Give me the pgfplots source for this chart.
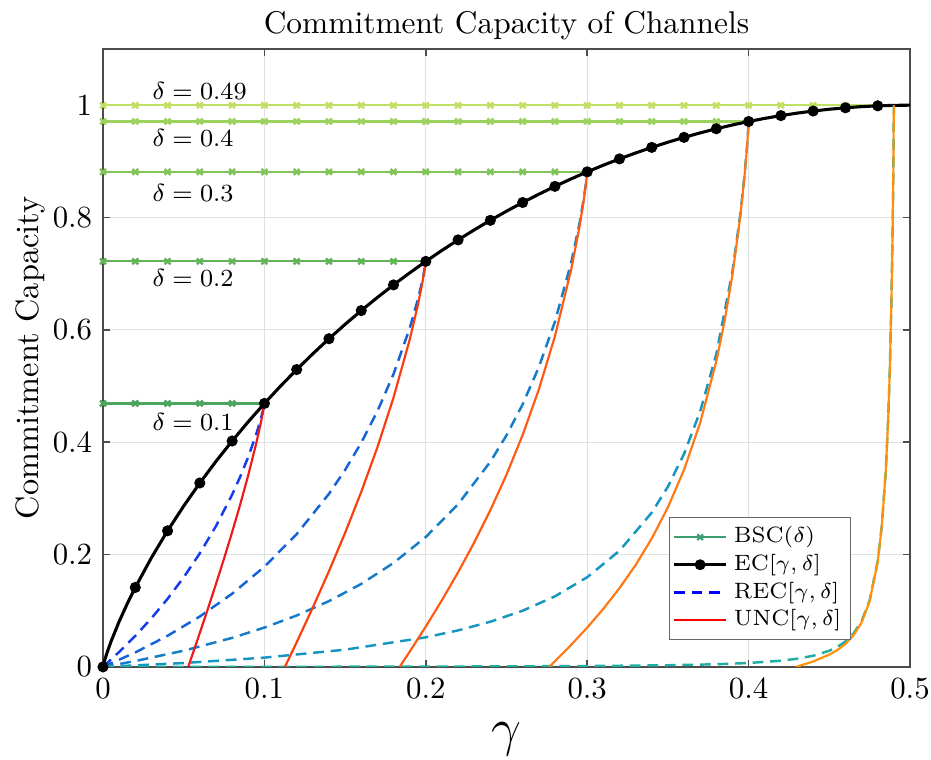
\documentclass[border=0pt]{standalone}
\usepackage{pgfplots}
\pgfplotsset{compat=1.18}

\definecolor{bsc1}{RGB}{75,165,95}
\definecolor{bsc2}{RGB}{100,178,90}
\definecolor{bsc3}{RGB}{130,195,90}
\definecolor{bsc4}{RGB}{158,210,95}
\definecolor{bsc5}{RGB}{190,225,100}
\definecolor{bscleg}{RGB}{60,160,110}
\definecolor{rec1}{RGB}{20,60,235}
\definecolor{rec2}{RGB}{20,100,215}
\definecolor{rec3}{RGB}{20,125,200}
\definecolor{rec4}{RGB}{20,150,190}
\definecolor{rec5}{RGB}{30,175,160}
\definecolor{unc1}{RGB}{240,25,25}
\definecolor{unc2}{RGB}{250,60,15}
\definecolor{unc3}{RGB}{255,90,20}
\definecolor{unc4}{RGB}{255,120,20}
\definecolor{unc5}{RGB}{255,145,10}

\pgfplotsset{
  bsc/.style={forget plot, line width=0.7pt, mark=x, mark size=1.35pt, mark options={line width=0.8pt}},
  rec/.style={forget plot, line width=0.8pt, dash pattern=on 3.5pt off 2.2pt},
  unc/.style={forget plot, line width=0.7pt},
}
\tikzset{dlabel/.style={anchor=west, inner sep=0pt, font=\fontsize{8.5}{10}\selectfont}}

\begin{document}
\begin{tikzpicture}
\begin{axis}[
  scale only axis,
  width=262pt, height=200.6pt,
  xmin=0, xmax=0.5, ymin=0, ymax=1.1,
  xtick={0,0.1,0.2,0.3,0.4,0.5},
  xticklabels={0,0.1,0.2,0.3,0.4,0.5},
  ytick={0,0.2,0.4,0.6,0.8,1},
  yticklabels={0,0.2,0.4,0.6,0.8,1},
  grid=major, grid style={line width=0.35pt, black!12},
  axis line style={line width=0.5pt, black!70},
  major tick style={line width=0.5pt, black!70},
  major tick length=2.3pt,
  tick align=inside,
  title={Commitment Capacity of Channels},
  every axis title shift=0pt,
  title style={at={(axis description cs:0.5,1.0259)}, anchor=base, font=\fontsize{10.2}{12}\selectfont},
  xlabel={$\gamma$},
  xlabel style={at={(axis description cs:0.5,-0.1276)}, anchor=base, font=\fontsize{18}{20}\selectfont},
  ylabel={Commitment Capacity},
  ylabel style={at={(axis description cs:-0.0905,0.5)}, anchor=center, font=\fontsize{10.5}{12}\selectfont},
  legend style={at={(0.927,0.243)}, anchor=north east, font=\fontsize{7.2}{8}\selectfont,
    draw=black!60, line width=0.5pt, inner sep=1pt, row sep=-1.8pt},
  legend cell align=left,
  legend image code/.code={\draw[mark repeat=2, mark phase=2, #1]
    plot coordinates {(0pt,0pt) (8.5pt,0pt) (17pt,0pt)};},
]
\addlegendimage{bscleg, line width=0.7pt, mark=x, mark size=1.3pt}
\addlegendentry{BSC$(\delta)$}
\addlegendimage{black, line width=0.9pt, mark=*, mark size=1.3pt}
\addlegendentry{EC$[\gamma,\delta]$}
\addlegendimage{blue, line width=0.8pt, dash pattern=on 3.5pt off 2.2pt}
\addlegendentry{REC$[\gamma,\delta]$}
\addlegendimage{red, line width=0.7pt}
\addlegendentry{UNC$[\gamma,\delta]$}

% BSC(delta): flat lines
\addplot[bsc, bsc1] coordinates {(0,0.469)(0.02,0.469)(0.04,0.469)(0.06,0.469)(0.08,0.469)(0.1,0.469)};
\addplot[bsc, bsc2] coordinates {(0,0.72193)(0.02,0.72193)(0.04,0.72193)(0.06,0.72193)(0.08,0.72193)(0.1,0.72193)
  (0.12,0.72193)(0.14,0.72193)(0.16,0.72193)(0.18,0.72193)(0.2,0.72193)};
\addplot[bsc, bsc3] coordinates {(0,0.88129)(0.02,0.88129)(0.04,0.88129)(0.06,0.88129)(0.08,0.88129)(0.1,0.88129)
  (0.12,0.88129)(0.14,0.88129)(0.16,0.88129)(0.18,0.88129)(0.2,0.88129)(0.22,0.88129)(0.24,0.88129)
  (0.26,0.88129)(0.28,0.88129)(0.3,0.88129)};
\addplot[bsc, bsc4] coordinates {(0,0.97095)(0.02,0.97095)(0.04,0.97095)(0.06,0.97095)(0.08,0.97095)(0.1,0.97095)
  (0.12,0.97095)(0.14,0.97095)(0.16,0.97095)(0.18,0.97095)(0.2,0.97095)(0.22,0.97095)(0.24,0.97095)
  (0.26,0.97095)(0.28,0.97095)(0.3,0.97095)(0.32,0.97095)(0.34,0.97095)(0.36,0.97095)(0.38,0.97095)(0.4,0.97095)};
\addplot[bsc, bsc5] coordinates {(0,0.99971)(0.02,0.99971)(0.04,0.99971)(0.06,0.99971)(0.08,0.99971)(0.1,0.99971)
  (0.12,0.99971)(0.14,0.99971)(0.16,0.99971)(0.18,0.99971)(0.2,0.99971)(0.22,0.99971)(0.24,0.99971)
  (0.26,0.99971)(0.28,0.99971)(0.3,0.99971)(0.32,0.99971)(0.34,0.99971)(0.36,0.99971)(0.38,0.99971)
  (0.4,0.99971)(0.42,0.99971)(0.44,0.99971)(0.46,0.99971)(0.48,0.99971)};

% EC[gamma,delta]
\addplot[forget plot, black, line width=1pt] coordinates {
  (0,0)(0.001,0.01141)(0.0025,0.02521)(0.005,0.04541)(0.01,0.08079)(0.015,0.11236)(0.02,0.14144)
  (0.03,0.19439)(0.04,0.24229)(0.05,0.28640)(0.06,0.32744)(0.07,0.36592)(0.08,0.40218)(0.09,0.43647)
  (0.10,0.46900)(0.11,0.49992)(0.12,0.52936)(0.13,0.55744)(0.14,0.58424)(0.15,0.60984)(0.16,0.63431)
  (0.17,0.65770)(0.18,0.68008)(0.19,0.70147)(0.20,0.72193)(0.21,0.74148)(0.22,0.76015)(0.23,0.77798)
  (0.24,0.79504)(0.25,0.81128)(0.26,0.82675)(0.27,0.84146)(0.28,0.85545)(0.29,0.86872)(0.30,0.88129)
  (0.31,0.89317)(0.32,0.90438)(0.33,0.91492)(0.34,0.92482)(0.35,0.93407)(0.36,0.94268)(0.37,0.95067)
  (0.38,0.95804)(0.39,0.96480)(0.40,0.97095)(0.41,0.97650)(0.42,0.98145)(0.43,0.98582)(0.44,0.98959)
  (0.45,0.99277)(0.46,0.99538)(0.47,0.99740)(0.48,0.99885)(0.49,0.99971)(0.50,1.00000)};
\addplot[forget plot, only marks, black, mark=*, mark size=1.6pt] coordinates {
  (0,0)(0.02,0.14144)(0.04,0.24229)(0.06,0.32744)(0.08,0.40218)(0.10,0.46900)(0.12,0.52936)
  (0.14,0.58424)(0.16,0.63431)(0.18,0.68008)(0.20,0.72193)(0.22,0.76015)(0.24,0.79504)(0.26,0.82675)
  (0.28,0.85545)(0.30,0.88129)(0.32,0.90438)(0.34,0.92482)(0.36,0.94268)(0.38,0.95804)(0.40,0.97095)
  (0.42,0.98145)(0.44,0.98959)(0.46,0.99538)(0.48,0.99885)};

% REC[gamma,delta]
\addplot[rec, rec1] coordinates {(0,0)(0.01,0.02660)(0.02,0.05518)(0.03,0.08662)(0.04,0.12119)(0.05,0.15946)
  (0.06,0.20224)(0.07,0.25068)(0.08,0.30667)(0.085,0.33852)(0.09,0.37398)(0.095,0.41481)(0.0975,0.43865)
  (0.099,0.45517)(0.1,0.469)};
\addplot[rec, rec2] coordinates {(0,0)(0.02,0.02572)(0.04,0.05535)(0.06,0.08980)(0.08,0.13026)(0.10,0.17836)
  (0.12,0.23647)(0.14,0.30811)(0.15,0.35070)(0.16,0.39918)(0.17,0.45517)(0.18,0.52129)(0.19,0.60281)
  (0.195,0.65334)(0.1975,0.68326)(0.199,0.70420)(0.2,0.72193)};
\addplot[rec, rec3] coordinates {(0,0)(0.02,0.01042)(0.05,0.02889)(0.08,0.05168)(0.10,0.07001)(0.12,0.09155)
  (0.14,0.11711)(0.16,0.14775)(0.18,0.18508)(0.20,0.23127)(0.22,0.28962)(0.24,0.36534)(0.25,0.41229)
  (0.26,0.46747)(0.27,0.53348)(0.28,0.61453)(0.29,0.71896)(0.295,0.78627)(0.2975,0.82710)(0.299,0.85619)
  (0.3,0.88129)};
\addplot[rec, rec4] coordinates {(0,0)(0.05,0.00687)(0.10,0.01652)(0.15,0.03067)(0.20,0.05265)(0.22,0.06502)
  (0.24,0.08046)(0.26,0.10008)(0.28,0.12560)(0.30,0.15967)(0.32,0.20677)(0.34,0.27474)(0.35,0.32093)
  (0.36,0.37928)(0.37,0.45500)(0.38,0.55713)(0.39,0.70419)(0.395,0.80862)(0.3975,0.87593)(0.399,0.92591)
  (0.3995,0.94585)(0.4,0.97095)};
\addplot[rec, rec5] coordinates {(0,0)(0.1,0.00016)(0.2,0.00051)(0.3,0.00151)(0.35,0.00292)(0.38,0.00473)
  (0.40,0.00694)(0.42,0.01101)(0.43,0.01448)(0.44,0.01984)(0.45,0.02876)(0.455,0.03563)(0.46,0.04528)
  (0.465,0.05943)(0.47,0.08141)(0.475,0.11842)(0.48,0.18843)(0.4825,0.25012)(0.485,0.34969)(0.4865,0.44329)
  (0.4875,0.53071)(0.4885,0.65190)(0.4893,0.79189)(0.4897,0.89000)(0.49,0.99971)};

% UNC[gamma,delta]
\addplot[unc, unc1] coordinates {(0.052786,0)(0.055,0.01848)(0.06,0.06068)(0.065,0.10364)(0.07,0.14760)
  (0.075,0.19289)(0.08,0.23985)(0.085,0.28908)(0.09,0.34145)(0.095,0.39875)(0.0975,0.43067)(0.099,0.45199)
  (0.1,0.469)};
\addplot[unc, unc2] coordinates {(0.112702,0)(0.115,0.01372)(0.12,0.04390)(0.13,0.10581)(0.14,0.17042)
  (0.15,0.23861)(0.16,0.31156)(0.17,0.39094)(0.18,0.47944)(0.19,0.58235)(0.195,0.64323)(0.1975,0.67824)
  (0.199,0.70219)(0.2,0.72193)};
\addplot[unc, unc3] coordinates {(0.183772,0)(0.19,0.02707)(0.20,0.07191)(0.21,0.11884)(0.22,0.16848)
  (0.23,0.22156)(0.24,0.27909)(0.25,0.34228)(0.26,0.41293)(0.27,0.49365)(0.28,0.58869)(0.29,0.70639)
  (0.295,0.78007)(0.2975,0.82403)(0.299,0.85496)(0.3,0.88129)};
\addplot[unc, unc4] coordinates {(0.276393,0)(0.28,0.01010)(0.29,0.03911)(0.30,0.07001)(0.31,0.10343)
  (0.32,0.14020)(0.33,0.18138)(0.34,0.22861)(0.35,0.28405)(0.36,0.35101)(0.37,0.43472)(0.38,0.54422)
  (0.385,0.61369)(0.39,0.69804)(0.395,0.80562)(0.3975,0.87445)(0.399,0.92533)(0.3995,0.94556)(0.4,0.97095)};
\addplot[unc, unc5] coordinates {(0.429289,0)(0.43,0.00059)(0.44,0.00972)(0.45,0.02182)(0.455,0.03007)
  (0.46,0.04095)(0.465,0.05618)(0.47,0.07910)(0.475,0.11691)(0.48,0.18757)(0.4825,0.24953)(0.485,0.34933)
  (0.4865,0.44305)(0.4875,0.53055)(0.4885,0.65181)(0.4893,0.79185)(0.4897,0.88998)(0.49,0.99971)};

% delta labels
\node[dlabel] at (axis cs:0.0304,1.025) {$\delta = 0.49$};
\node[dlabel] at (axis cs:0.0304,0.941) {$\delta = 0.4$};
\node[dlabel] at (axis cs:0.0304,0.843) {$\delta = 0.3$};
\node[dlabel] at (axis cs:0.0304,0.692) {$\delta = 0.2$};
\node[dlabel] at (axis cs:0.0304,0.436) {$\delta = 0.1$};

\coordinate (bl) at (rel axis cs:0,0);
\coordinate (tr) at (rel axis cs:1,1);
\end{axis}
\pgfresetboundingbox
\path[use as bounding box] ([xshift=-33.44pt,yshift=-30.19pt]bl) rectangle ([xshift=6.82pt,yshift=15.91pt]tr);
\end{tikzpicture}
\end{document}
